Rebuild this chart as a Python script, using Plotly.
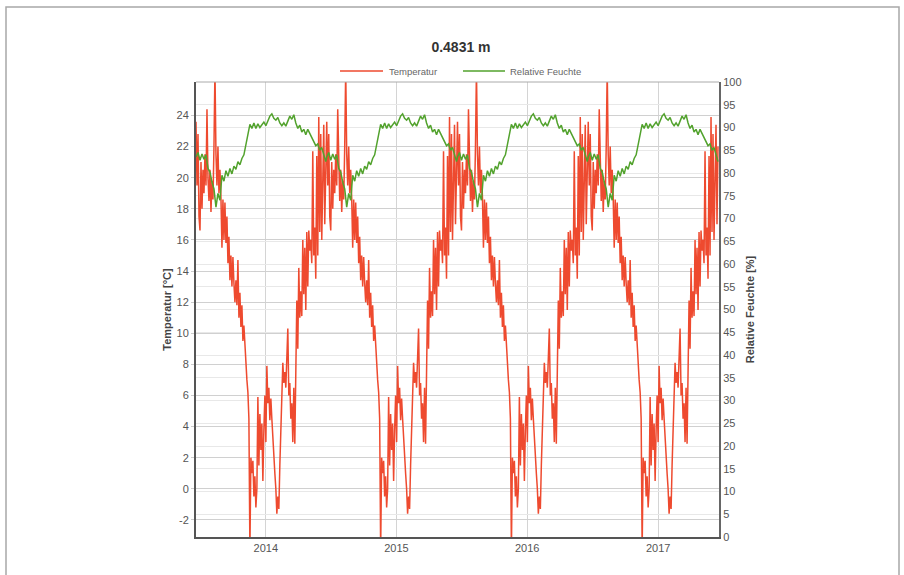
import datetime as dt
import plotly.graph_objects as go

# ---- data (one annual cycle, repeated each year in the source) ----
cycle_start = "2013-06-20"
n_cycles = 4
samples_per_cycle = 131
days_per_sample = 1461 / 524

# Temperatur [°C], one value per sample over one cycle (June -> June)
temperatur = [
    23.6, 19.5, 22.8, 17.5, 16.6, 21.0, 18.0, 20.5, 19.0, 21.5,
    19.5, 24.4, 20.0, 18.5, 20.5, 17.8, 19.8, 18.6, 22.0, 27.0,
    21.5, 19.5, 22.0, 19.0, 20.5, 18.7, 15.5, 18.6, 16.0, 18.4,
    15.8, 17.5, 14.5, 16.2, 13.4, 15.0, 13.0, 14.9, 13.2, 12.0,
    13.4, 11.8, 14.7, 11.0, 12.6, 10.4, 11.8, 9.5, 10.5, 9.0,
    8.0, 7.0, 6.2, 4.5, -4.0, 2.0, 1.0, 1.8, -0.5, 0.8,
    -1.2, 0.0, 5.9, 1.5, 4.8, 2.5, 4.2, 0.5, 3.8, 6.0,
    3.0, 7.9, 5.5, 6.5, 4.4, 5.8, 4.5, 3.0, 2.5, 1.0,
    0.0, -1.6, -0.5, -1.3, 1.5, 4.0, 6.3, 8.1, 6.8, 7.5,
    6.5, 8.0, 10.3, 6.0, 6.8, 4.5, 5.5, 3.0, 6.5, 2.9,
    7.0, 12.1, 9.0, 14.2, 11.0, 12.7, 11.1, 16.0, 12.5, 15.5,
    11.5, 16.5, 13.0, 16.6, 15.3, 16.0, 14.5, 21.7, 15.0, 16.8,
    13.5, 21.4, 15.0, 23.9, 16.5, 22.8, 16.0, 20.5, 23.4, 17.0,
    22.0,
]

# Relative Feuchte [%], one value every second sample over one cycle
feuchte = [
    83.5, 84.5, 82.8, 84.2, 83.0, 84.0, 81.0, 80.2, 78.0, 76.5,
    72.5, 75.5, 74.0, 79.5, 78.2, 80.5, 79.3, 81.0, 79.8, 81.5,
    80.8, 82.5, 81.8, 83.2, 84.0, 86.0, 88.0, 90.7, 89.8, 91.0,
    89.8, 90.8, 90.0, 90.6, 91.2, 90.4, 91.5, 92.5, 93.0, 92.0,
    91.6, 92.2, 91.0, 90.4, 91.0, 90.3, 91.4, 92.5, 91.8, 92.8,
    91.0, 89.8, 90.5, 89.0, 89.6, 88.4, 89.6, 88.6, 88.0, 86.8,
    86.0, 86.4, 85.0, 85.6, 84.2, 82.5,
]

series_names = ["Temperatur", "Relative Feuchte"]
year_ticks = ["2014", "2015", "2016", "2017"]
temp_ticks = [-2, 0, 2, 4, 6, 8, 10, 12, 14, 16, 18, 20, 22, 24]
temp_labels = ["-2", "0", "2", "4", "6", "8", "10", "12", "14", "16", "18", "20", "22", "24"]
rh_ticks = list(range(0, 101, 5))

# ---- build the time axis ----
t0 = dt.datetime.strptime(cycle_start, "%Y-%m-%d")
t_x, t_y, f_x, f_y = [], [], [], []
for k in range(n_cycles):
    for i, v in enumerate(temperatur):
        t_x.append(t0 + dt.timedelta(days=(k * samples_per_cycle + i) * days_per_sample))
        t_y.append(v)
    for j, v in enumerate(feuchte):
        f_x.append(t0 + dt.timedelta(days=(k * samples_per_cycle + 2 * j) * days_per_sample))
        f_y.append(v)

x_end = t0 + dt.timedelta(days=1461)

RED = "#ee4a2f"
GREEN = "#52a22d"
FONT = "Liberation Sans"

fig = go.Figure()
fig.add_trace(go.Scatter(x=t_x, y=t_y, name=series_names[0], mode="lines",
                         line=dict(color=RED, width=1.5), yaxis="y"))
fig.add_trace(go.Scatter(x=f_x, y=f_y, name=series_names[1], mode="lines",
                         line=dict(color=GREEN, width=1.5), yaxis="y2"))

# plot area in px: x 196..719, y 82..537
L, R, T, B = 196, 719, 82, 537
W, H = 904, 575
def px(x):
    return (x - L) / (R - L)
def py(y):
    return (B - y) / (B - T)

# legend drawn as line samples + labels (positions in px)
legend_items = [(340, 383, 387, RED, series_names[0]),
                (463, 505, 508, GREEN, series_names[1])]
leg_y = 71
shapes = [
    dict(type="line", xref="paper", yref="paper", x0=0, x1=1, y0=1, y1=1,
         line=dict(color="#aaaaaa", width=1)),
    dict(type="rect", xref="paper", yref="paper",
         x0=px(6), x1=px(899), y0=py(590), y1=py(7),
         line=dict(color="#a8a8a8", width=1.5), layer="below"),
]
annotations = []
for x0, x1, xt, col, name in legend_items:
    shapes.append(dict(type="line", xref="paper", yref="paper",
                       x0=px(x0), x1=px(x1), y0=py(leg_y), y1=py(leg_y),
                       line=dict(color=col, width=1.5)))
    annotations.append(dict(text=name, xref="paper", yref="paper",
                            x=px(xt), y=py(leg_y), xanchor="left", yanchor="middle",
                            showarrow=False,
                            font=dict(size=9.5, color="#666666", family=FONT)))

fig.update_layout(
    width=W, height=H,
    margin=dict(l=L, r=W - R, t=T, b=H - B),
    paper_bgcolor="white", plot_bgcolor="white",
    showlegend=False,
    font=dict(family=FONT, size=11, color="#555555"),
    title=dict(text="<b>0.4831 m</b>", x=461 / W, xref="container", xanchor="center",
               y=1 - 47 / H, yref="container", yanchor="middle",
               font=dict(size=14, color="#333333", family=FONT)),
    xaxis=dict(type="date", range=[t0, x_end],
               tickvals=[dt.datetime(int(y), 1, 1) for y in year_ticks],
               ticktext=year_ticks,
               showgrid=True, gridcolor="#d4d4d4", gridwidth=1,
               showline=True, linecolor="#555555", linewidth=2,
               ticks="", zeroline=False,
               tickfont=dict(size=11, color="#555555")),
    yaxis=dict(range=[-3.1, 26.15], tickvals=temp_ticks, ticktext=temp_labels,
               title=dict(text="<b>Temperatur [°C]</b>", standoff=3,
                          font=dict(size=11, color="#444444")),
               showgrid=True, gridcolor="#d0d0d0", gridwidth=1,
               showline=True, linecolor="#555555", linewidth=2,
               ticks="outside", ticklen=3, tickcolor="#cccccc",
               zeroline=False, tickfont=dict(size=11, color="#555555")),
    yaxis2=dict(range=[0, 100], tickvals=rh_ticks, overlaying="y", side="right",
                title=dict(text="<b>Relative Feuchte [%]</b>", standoff=6,
                           font=dict(size=11, color="#444444")),
                showgrid=True, gridcolor="#e8e8e8", gridwidth=1,
                showline=True, linecolor="#666666", linewidth=2,
                ticks="", zeroline=False, tickfont=dict(size=11, color="#555555")),
    shapes=shapes,
    annotations=annotations,
)

fig.write_html("out.html", config={"displayModeBar": False},
               post_script="document.body.style.margin='0';document.body.style.overflow='hidden';")
